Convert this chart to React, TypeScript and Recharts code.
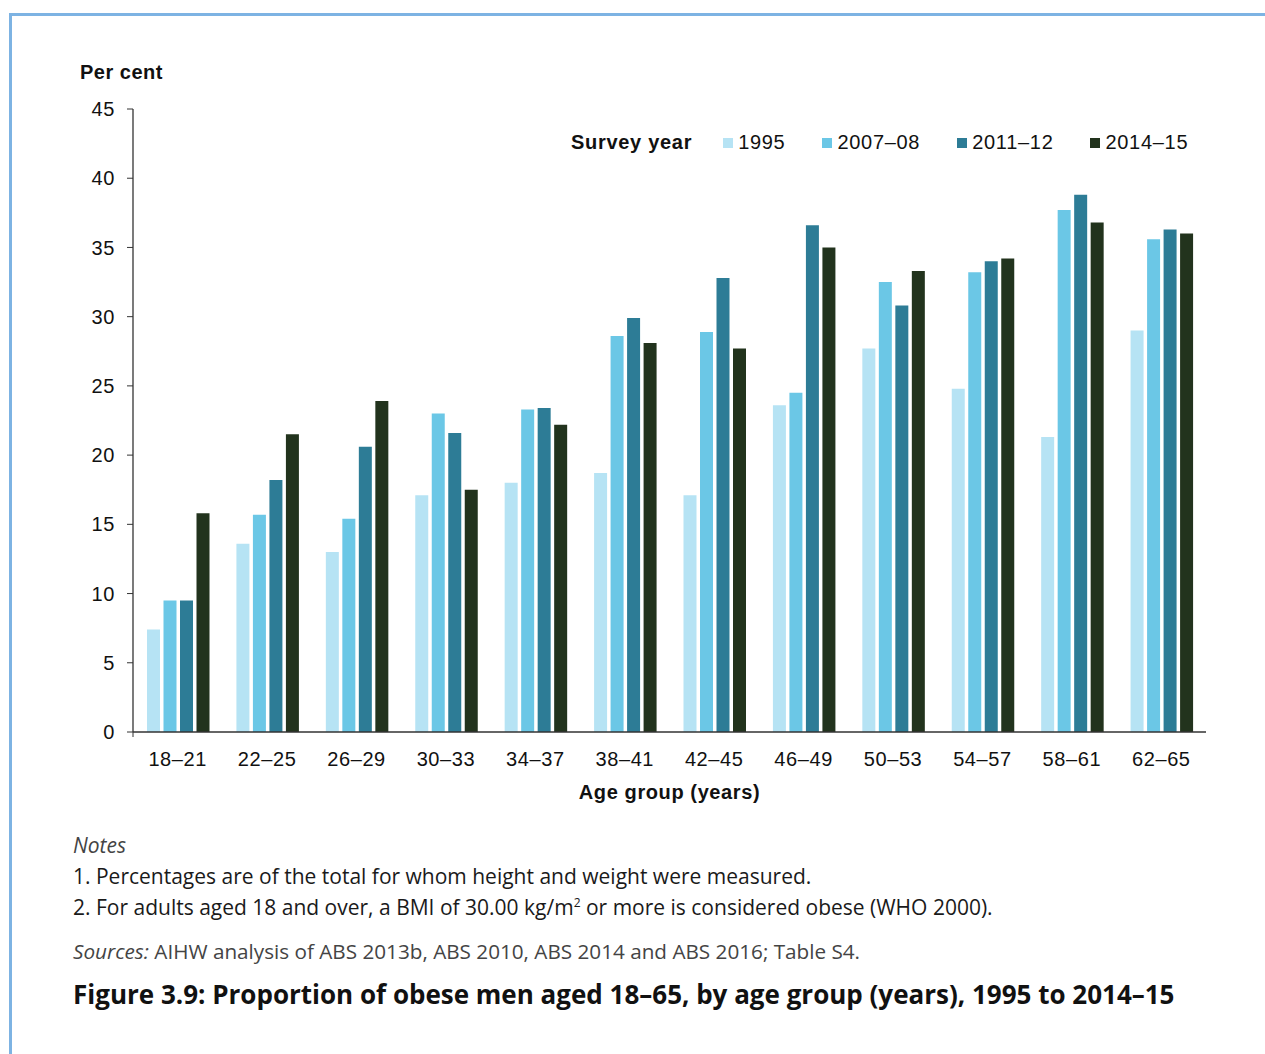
import React from 'react';
import * as R from 'recharts';
import { BarChart, Bar, XAxis, YAxis, Legend, Customized } from 'recharts';

const ageGroups = ['18–21', '22–25', '26–29', '30–33', '34–37', '38–41', '42–45', '46–49', '50–53', '54–57', '58–61', '62–65'];
const y1995 = [7.4, 13.6, 13.0, 17.1, 18.0, 18.7, 17.1, 23.6, 27.7, 24.8, 21.3, 29.0];
const y2007 = [9.5, 15.7, 15.4, 23.0, 23.3, 28.6, 28.9, 24.5, 32.5, 33.2, 37.7, 35.6];
const y2011 = [9.5, 18.2, 20.6, 21.6, 23.4, 29.9, 32.8, 36.6, 30.8, 34.0, 38.8, 36.3];
const y2014 = [15.8, 21.5, 23.9, 17.5, 22.2, 28.1, 27.7, 35.0, 33.3, 34.2, 36.8, 36.0];
const yTicks = [0, 5, 10, 15, 20, 25, 30, 35, 40, 45];

const seriesNames = ['1995', '2007–08', '2011–12', '2014–15'];
const seriesKeys = ['s1995', 's2007', 's2011', 's2014'];
const seriesColors = ['#b6e3f4', '#6bc7e6', '#2d7c96', '#22331d'];

const data = ageGroups.map((g, i) => ({
  age: g,
  s1995: y1995[i],
  s2007: y2007[i],
  s2011: y2011[i],
  s2014: y2014[i],
}));

const chartFont = '"Liberation Sans", Arial, Helvetica, sans-serif';
const noteFont = '"Open Sans", "Noto Sans", sans-serif';

const LegendContent = () => (
  <div style={{ display: 'flex', alignItems: 'center', fontFamily: chartFont, fontSize: 20, letterSpacing: 0.7, color: '#111', whiteSpace: 'nowrap' }}>
    <span style={{ fontWeight: 'bold', marginLeft: 11, marginRight: 31 }}>Survey year</span>
    {seriesNames.map((n, i) => (
      <span key={n} style={{ display: 'flex', alignItems: 'center', marginRight: 37 }}>
        <span style={{ display: 'inline-block', width: 10, height: 10, background: seriesColors[i], marginRight: 5 }} />
        <span>{n}</span>
      </span>
    ))}
  </div>
);

const AxisCornerTick = () => {
  const usePlot = (R as any).usePlotArea;
  const area = usePlot ? usePlot() : null;
  if (!area) return null;
  return <line x1={area.x} x2={area.x} y1={area.y + area.height} y2={area.y + area.height + 5} stroke="#333" strokeWidth={1} />;
};

export default function App() {
  return (
    <div style={{ position: 'absolute', left: 0, top: 0, width: 1265, height: 1054, background: '#fff', overflow: 'hidden' }}>
      <div style={{ position: 'absolute', left: 9, top: 13, width: 1400, height: 1200, borderTop: '3px solid #7db3e3', borderLeft: '3px solid #7db3e3' }} />
      <div style={{ position: 'absolute', left: 80, top: 61, fontFamily: chartFont, fontWeight: 'bold', fontSize: 20, letterSpacing: 0.5, color: '#111' }}>Per cent</div>
      <div style={{ position: 'absolute', left: 133, width: 1073, top: 781, textAlign: 'center', fontFamily: chartFont, fontWeight: 'bold', fontSize: 20, letterSpacing: 0.6, color: '#111' }}>Age group (years)</div>
      <div style={{ position: 'absolute', left: 0, top: 0 }}>
        <BarChart
          width={1265}
          height={1054}
          data={data}
          margin={{ top: 109, right: 59, left: 73, bottom: 292 }}
          barCategoryGap={14}
          barGap={3.5}
        >
          <XAxis
            dataKey="age"
            height={30}
            axisLine={{ stroke: '#333', strokeWidth: 1.3 }}
            tickLine={false}
            tickSize={0}
            tickMargin={20}
            interval={0}
            tick={{ fill: '#111', fontSize: 20, fontFamily: chartFont, letterSpacing: 0.6 }}
          />
          <YAxis
            width={60}
            domain={[0, 45]}
            ticks={yTicks}
            interval={0}
            axisLine={{ stroke: '#333', strokeWidth: 1.3 }}
            tickLine={{ stroke: '#333' }}
            tickSize={6}
            tickMargin={12}
            tick={{ fill: '#111', fontSize: 20, fontFamily: chartFont, letterSpacing: 0.6 }}
          />
          <Legend
            verticalAlign="middle"
            align="center"
            layout="horizontal"
            wrapperStyle={{ left: 560, top: 131, width: 700 }}
            content={<LegendContent />}
          />
          {seriesKeys.map((k, i) => (
            <Bar key={k} dataKey={k} name={seriesNames[i]} fill={seriesColors[i]} isAnimationActive={false} />
          ))}
          <Customized component={<AxisCornerTick />} />
        </BarChart>
      </div>
      <div style={{ position: 'absolute', left: 73, top: 831, fontFamily: noteFont, fontSize: 21, fontStyle: 'italic', color: '#444' }}>Notes</div>
      <div style={{ position: 'absolute', left: 73, top: 862, fontFamily: noteFont, fontSize: 21, color: '#1a1a1a' }}>1. Percentages are of the total for whom height and weight were measured.</div>
      <div style={{ position: 'absolute', left: 73, top: 893, fontFamily: noteFont, fontSize: 21, color: '#1a1a1a' }}>
        2. For adults aged 18 and over, a BMI of 30.00 kg/m<sup style={{ fontSize: 12, verticalAlign: 'top', lineHeight: '20px' }}>2</sup> or more is considered obese (WHO 2000).
      </div>
      <div style={{ position: 'absolute', left: 73, top: 937, fontFamily: noteFont, fontSize: 20.7, color: '#444' }}>
        <i>Sources:</i> AIHW analysis of ABS 2013b, ABS 2010, ABS 2014 and ABS 2016; Table S4.
      </div>
      <div style={{ position: 'absolute', left: 73, top: 976, fontFamily: noteFont, fontSize: 26, fontWeight: 'bold', color: '#111' }}>
        Figure 3.9: Proportion of obese men aged 18–65, by age group (years), 1995 to 2014–15
      </div>
    </div>
  );
}
